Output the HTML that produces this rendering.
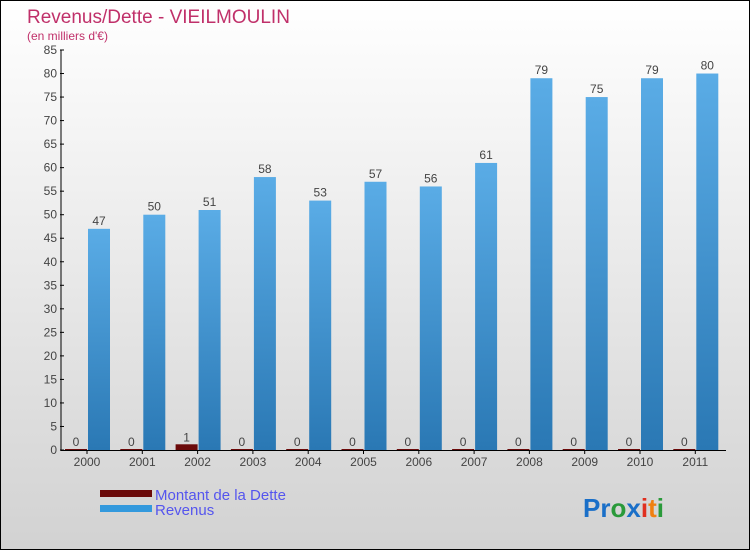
<!DOCTYPE html>
<html><head><meta charset="utf-8"><style>
body{margin:0}
#c{width:748px;height:548px;border:1px solid #000;position:relative;background:linear-gradient(#fff,#d2d2d2);font-family:"Liberation Sans",sans-serif;overflow:hidden}
</style></head><body>
<div id="c">
<svg id="s" width="748" height="548" style="position:absolute;left:0;top:0">
<defs><linearGradient id="g" x1="0" y1="0" x2="0" y2="1"><stop offset="0" stop-color="#5aace6"/><stop offset="1" stop-color="#2a78b4"/></linearGradient></defs>
<text x="26" y="22" font-size="19" fill="#c0306a">Revenus/Dette - VIEILMOULIN</text>
<text x="26" y="39" font-size="12" fill="#c0306a">(en milliers d'€)</text>
<g id="plot"></g>
<rect x="99" y="489" width="52" height="7" fill="#6b0a0a"/>
<rect x="99" y="504" width="52" height="7" fill="#3399dd"/>
<text x="154" y="499" font-size="15" fill="#5555ee">Montant de la Dette</text>
<text x="154" y="514" font-size="15" fill="#5555ee">Revenus</text>
<text x="582" y="516" font-size="26" font-weight="bold"><tspan fill="#1a6fc8">Pr</tspan><tspan fill="#2a9a3a">o</tspan><tspan fill="#1a6fc8">x</tspan><tspan fill="#e03020">i</tspan><tspan fill="#f08010">t</tspan><tspan fill="#2a9a3a">i</tspan></text>
</svg>
</div>
<script>
const years=["2000","2001","2002","2003","2004","2005","2006","2007","2008","2009","2010","2011"];
const dette=[0,0,1,0,0,0,0,0,0,0,0,0];
const revenus=[47,50,51,58,53,57,56,61,79,75,79,80];
const yTicks=[0,5,10,15,20,25,30,35,40,45,50,55,60,65,70,75,80,85];
const NS="http://www.w3.org/2000/svg";
const g=document.getElementById('plot');
const y=v=>449-v*400/85;
const x=i=>86+i*55.3;
function mk(t,a){const e=document.createElementNS(NS,t);for(const k in a)e.setAttribute(k,a[k]);g.appendChild(e);return e;}
yTicks.forEach(v=>{
 const l=mk('line',{x1:59,x2:63,y1:y(v),y2:y(v),stroke:'#000'});
 
 
 const t=mk('text',{x:56,y:y(v)+4,'text-anchor':'end','font-size':12,fill:'#444'});
 t.textContent=v;
 
 
});
years.forEach((yr,i)=>{
 const cx=x(i);
 const d=mk('rect',{x:cx-22,y:y(dette[i])-1,width:22,height:Math.max(1,449-y(dette[i]))+1,fill:'#6b0a0a'});
 
 
 const r=mk('rect',{x:cx+1,y:y(revenus[i]),width:22,height:449-y(revenus[i]),fill:'url(#g)'});
 
 
 const t1=mk('text',{x:cx-11,y:y(dette[i])-4,'text-anchor':'middle','font-size':12,fill:'#444'});
 t1.textContent=dette[i];
 
 
 const t2=mk('text',{x:cx+12,y:y(revenus[i])-4,'text-anchor':'middle','font-size':12,fill:'#444'});
 t2.textContent=revenus[i];
 
 
 const tk=mk('line',{x1:cx,x2:cx,y1:449,y2:453,stroke:'#000'});
 
 
 const xl=mk('text',{x:cx,y:465,'text-anchor':'middle','font-size':12,fill:'#444'});
 xl.textContent=yr;
 
 
});
const ya=mk('line',{x1:60,x2:60,y1:y(85),y2:450,stroke:'#000'});


const xa=mk('line',{x1:60,x2:725,y1:449.5,y2:449.5,stroke:'#000'});


</script>
</body></html>
